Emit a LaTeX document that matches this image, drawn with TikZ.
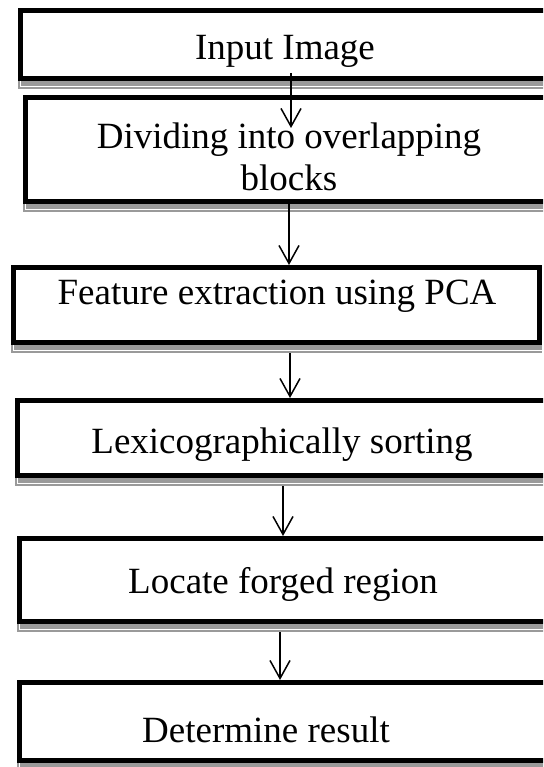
\documentclass[tikz,border=0pt]{standalone}
\usepackage{fontspec}
\setmainfont{Liberation Serif}
\usetikzlibrary{arrows.meta,calc}

\definecolor{shadowgray}{HTML}{9A9A9A}

\tikzset{
  stagebox/.style={draw=black, fill=white, line width=5pt, rectangle,
    anchor=north west, inner sep=0pt},
  lbl/.style={font=\fontsize{37}{42}\selectfont, inner sep=0pt, anchor=base, align=center},
  flow/.style={draw=black, line width=1.5pt,
    -{Straight Barb[length=18pt,width=20pt,line width=1.5pt]}},
}

% gray offset shadow with a thin light rule under a box
\newcommand\boxshadow[1]{%
  \fill[shadowgray] (#1.south west) rectangle ($(#1.south east)+(0,8)$);
  \draw[white, line width=0.9pt] ($(#1.south west)+(2,0)$) -- ($(#1.south west)+(2,5)$)
        -- ($(#1.south east)+(0,5)$);
}

\begin{document}
\begin{tikzpicture}[x=1pt, y=-1pt]
  \useasboundingbox (0,0) rectangle (543,767);
  \clip (0,0) rectangle (543,767);
  \fill[white] (0,0) rectangle (543,767);

  % stage boxes (outer corners)
  \node[stagebox, minimum width=529pt, minimum height=68pt]  (b1) at (18,8)   {};
  \node[stagebox, minimum width=527pt, minimum height=104pt] (b2) at (23,95)  {};
  \node[stagebox, minimum width=526pt, minimum height=75pt]  (b3) at (11,265) {};
  \node[stagebox, minimum width=529pt, minimum height=75pt]  (b4) at (15,398) {};
  \node[stagebox, minimum width=527pt, minimum height=83pt]  (b5) at (17,536) {};
  \node[stagebox, minimum width=527pt, minimum height=78pt]  (b6) at (17,680) {};

  \boxshadow{b1}
  \boxshadow{b2}
  \boxshadow{b3}
  \boxshadow{b4}
  \boxshadow{b5}
  \boxshadow{b6}

  % stage labels (placed on their last baseline)
  \node[lbl] (t1) at (285,60)  {Input Image};
  \node[lbl] (t2) at (289,191) {Dividing into overlapping\\blocks};
  \node[lbl] (t3) at (277,304) {Feature extraction using PCA};
  \node[lbl] (t4) at (282,453) {Lexicographically sorting};
  \node[lbl] (t5) at (283,593) {Locate forged region};
  \node[lbl] (t6) at (266,742) {Determine result};

  % connector ends
  \coordinate (s1) at (291,73);
  \coordinate (e1) at (291,128);
  \coordinate (s2) at (289,204);
  \coordinate (s3) at (290,353);
  \coordinate (s4) at (283,486);
  \coordinate (s5) at (280,632);

  \draw[flow] (s1) -- (e1);
  \draw[flow] (s2) -- (b3.north -| s2);
  \draw[flow] (s3) -- (b4.north -| s3);
  \draw[flow] (s4) -- (b5.north -| s4);
  \draw[flow] (s5) -- (b6.north -| s5);
\end{tikzpicture}
\end{document}
